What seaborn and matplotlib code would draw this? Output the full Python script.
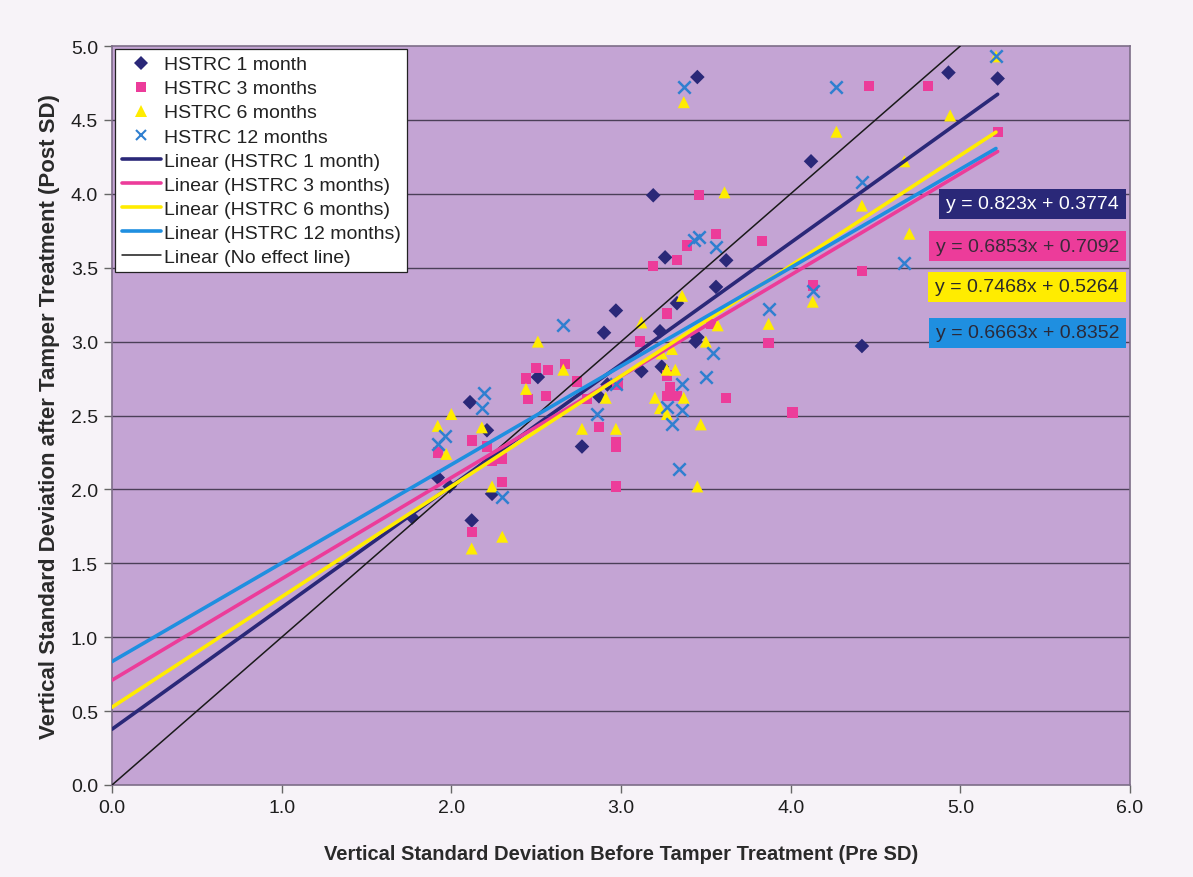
import matplotlib
matplotlib.use("Agg")
import matplotlib.pyplot as plt
from matplotlib.lines import Line2D
import seaborn as sns
import numpy as np
import pandas as pd

# ---------------- data ----------------
series_names = ["HSTRC 1 month", "HSTRC 3 months", "HSTRC 6 months", "HSTRC 12 months"]

x_1m = [1.77, 1.92, 1.99, 2.11, 2.12, 2.21, 2.24, 2.51, 2.77, 2.87, 2.90, 2.92, 2.97, 3.12,
        3.23, 3.24, 3.33, 3.44, 3.45, 3.19, 3.26, 3.45, 3.56, 3.62, 4.12, 4.42, 4.93, 5.22]
y_1m = [1.81, 2.08, 2.02, 2.59, 1.79, 2.40, 1.97, 2.76, 2.29, 2.63, 3.06, 2.71, 3.21, 2.80,
        3.07, 2.83, 3.26, 3.00, 3.03, 3.99, 3.57, 4.79, 3.37, 3.55, 4.22, 2.97, 4.82, 4.78]

x_3m = [1.92, 2.12, 2.12, 2.21, 2.24, 2.30, 2.30, 2.44, 2.45, 2.50, 2.56, 2.57, 2.67, 2.74,
        2.80, 2.87, 2.97, 2.97, 2.97, 2.98, 3.11, 3.27, 3.27, 3.29, 3.27, 3.33, 3.53, 3.62,
        3.19, 3.33, 3.39, 3.46, 3.56, 3.83, 3.87, 4.01, 4.13, 4.42, 4.46, 4.81, 5.22]
y_3m = [2.25, 2.33, 1.71, 2.29, 2.19, 2.21, 2.05, 2.75, 2.61, 2.82, 2.63, 2.81, 2.85, 2.73,
        2.61, 2.42, 2.32, 2.29, 2.02, 2.71, 3.00, 3.19, 2.77, 2.69, 2.63, 2.63, 3.12, 2.62,
        3.51, 3.55, 3.65, 3.99, 3.73, 3.68, 2.99, 2.52, 3.38, 3.48, 4.73, 4.73, 4.42]

x_6m = [1.92, 1.97, 2.00, 2.12, 2.18, 2.24, 2.30, 2.44, 2.51, 2.66, 2.77, 2.91, 2.97, 3.12,
        3.20, 3.23, 3.24, 3.27, 3.27, 3.30, 3.32, 3.36, 3.37, 3.37, 3.45, 3.47, 3.50, 3.57,
        3.61, 3.87, 4.13, 4.27, 4.42, 4.67, 4.70, 4.94, 5.21]
y_6m = [2.43, 2.24, 2.51, 1.60, 2.42, 2.02, 1.68, 2.68, 3.00, 2.81, 2.41, 2.62, 2.41, 3.13,
        2.62, 2.55, 2.92, 2.81, 2.51, 2.95, 2.81, 3.31, 2.62, 4.62, 2.02, 2.44, 3.00, 3.11,
        4.01, 3.12, 3.27, 4.42, 3.92, 4.22, 3.73, 4.53, 4.93]

x_12m = [1.92, 1.96, 2.18, 2.19, 2.30, 2.66, 2.86, 2.97, 3.27, 3.30, 3.34, 3.36, 3.36, 3.37,
         3.43, 3.46, 3.50, 3.54, 3.56, 3.87, 4.13, 4.27, 4.42, 4.67, 5.21]
y_12m = [2.31, 2.36, 2.55, 2.65, 1.95, 3.11, 2.51, 2.71, 2.56, 2.44, 2.14, 2.71, 2.54, 4.72,
         3.69, 3.71, 2.76, 2.92, 3.64, 3.22, 3.34, 4.72, 4.08, 3.53, 4.93]

# trendline equations as printed on the chart
slopes = [0.823, 0.6853, 0.7468, 0.6663]
intercepts = [0.3774, 0.7092, 0.5264, 0.8352]
eq_labels = ["y = 0.823x + 0.3774", "y = 0.6853x + 0.7092",
             "y = 0.7468x + 0.5264", "y = 0.6663x + 0.8352"]
no_effect_x = [0.0, 5.0]
no_effect_y = [0.0, 5.0]

x_ticks = [0.0, 1.0, 2.0, 3.0, 4.0, 5.0, 6.0]
y_ticks = [0.0, 0.5, 1.0, 1.5, 2.0, 2.5, 3.0, 3.5, 4.0, 4.5, 5.0]

xs_all = [x_1m, x_3m, x_6m, x_12m]
ys_all = [y_1m, y_3m, y_6m, y_12m]

# ---------------- styling ----------------
sns.set_theme(style="white")
plt.rcParams['font.family'] = ['Liberation Sans', 'DejaVu Sans']

navy = '#2a2878'
pink = '#ec3c9a'
yellow = '#ffec00'
blue = '#1f8fe0'
xblue = '#2f7fd0'
bg_plot = '#c4a4d4'
bg_fig = '#f7f3f8'
grid_c = '#4b3f58'

marker_colors = [navy, pink, yellow, xblue]
line_colors = [navy, pink, yellow, blue]
markers = ['D', 's', '^', 'x']
msizes = [55, 55, 75, 80]
eq_face = [navy, pink, yellow, blue]
eq_text = ['white', '#3a2a3a', '#2a2a2a', '#2a2a3a']

W, H = 1193, 878
fig = plt.figure(figsize=(W / 100, H / 100), dpi=100, facecolor=bg_fig)
L, R, T, B = 112, 1130, 47, 786
ax = fig.add_axes([L / W, (H - B) / H, (R - L) / W, (B - T) / H])
ax.set_facecolor(bg_plot)

# gridlines
for yv in y_ticks[1:-1]:
    ax.axhline(yv, color=grid_c, lw=1.0, zorder=1)

handles = []
for i in range(4):
    df = pd.DataFrame({'x': xs_all[i], 'y': ys_all[i]})
    if markers[i] == 'x':
        sns.scatterplot(data=df, x='x', y='y', marker='x', s=msizes[i], color=marker_colors[i],
                        linewidth=1.8, ax=ax, zorder=3, legend=False)
    else:
        sns.scatterplot(data=df, x='x', y='y', marker=markers[i], s=msizes[i],
                        color=marker_colors[i], edgecolor='none', ax=ax, zorder=3, legend=False)
    handles.append(Line2D([], [], ls='none', marker=markers[i], color=marker_colors[i],
                          markersize=7 if markers[i] != '^' else 8,
                          markeredgewidth=1.5 if markers[i] == 'x' else 0,
                          label=series_names[i]))

# no-effect line
sns.lineplot(x=no_effect_x, y=no_effect_y, color='#1a1a1a', lw=1.1, ax=ax, zorder=4)

# trendlines
for i in range(4):
    xline = np.array([0.0, max(xs_all[i])])
    yline = slopes[i] * xline + intercepts[i]
    sns.lineplot(x=xline, y=yline, color=line_colors[i], lw=2.6, ax=ax, zorder=5)
for i in range(4):
    handles.append(Line2D([], [], color=line_colors[i], lw=2.6,
                          label=f"Linear ({series_names[i]})"))
handles.append(Line2D([], [], color='#1a1a1a', lw=1.1, label="Linear (No effect line)"))

ax.set_xlim(0, 6)
ax.set_ylim(0, 5)
ax.set_xticks(x_ticks)
ax.set_yticks(y_ticks)
ax.set_xticklabels([f"{v:.1f}" for v in x_ticks], fontsize=14, color='#1e1e1e')
ax.set_yticklabels([f"{v:.1f}" for v in y_ticks], fontsize=14, color='#1e1e1e')
ax.tick_params(axis='both', direction='out', length=6, width=1, color='#666666',
               bottom=True, left=True, pad=4)
for s in ax.spines.values():
    s.set_color('#7d6d88')
    s.set_linewidth(1.2)

ax.set_xlabel("Vertical Standard Deviation Before Tamper Treatment (Pre SD)",
              fontsize=14.5, fontweight='bold', color='#2a2a2a', labelpad=20)
ax.set_ylabel("Vertical Standard Deviation after Tamper Treatment (Post SD)",
              fontsize=16, fontweight='bold', color='#2a2a2a', labelpad=8)

leg = ax.legend(handles=handles, loc='upper left',
                bbox_to_anchor=((115 - L) / (R - L), 1 - (50 - T) / (B - T)),
                borderaxespad=0, fontsize=14, frameon=True, fancybox=False,
                framealpha=1, edgecolor='#222222', facecolor='white',
                labelspacing=0.33, handlelength=2.0, handletextpad=0.15,
                borderpad=0.35)
leg.get_frame().set_linewidth(0.9)
for t in leg.get_texts():
    t.set_color('#222222')

# equation boxes
eq_y = [205, 247, 288, 334]
for i in range(4):
    fig.text(1119 / W, 1 - eq_y[i] / H, eq_labels[i], ha='right', va='center',
             fontsize=14, color=eq_text[i],
             bbox=dict(boxstyle='square,pad=0.35', facecolor=eq_face[i], edgecolor='none'))

fig.savefig("out.png", dpi=100, facecolor=bg_fig)
